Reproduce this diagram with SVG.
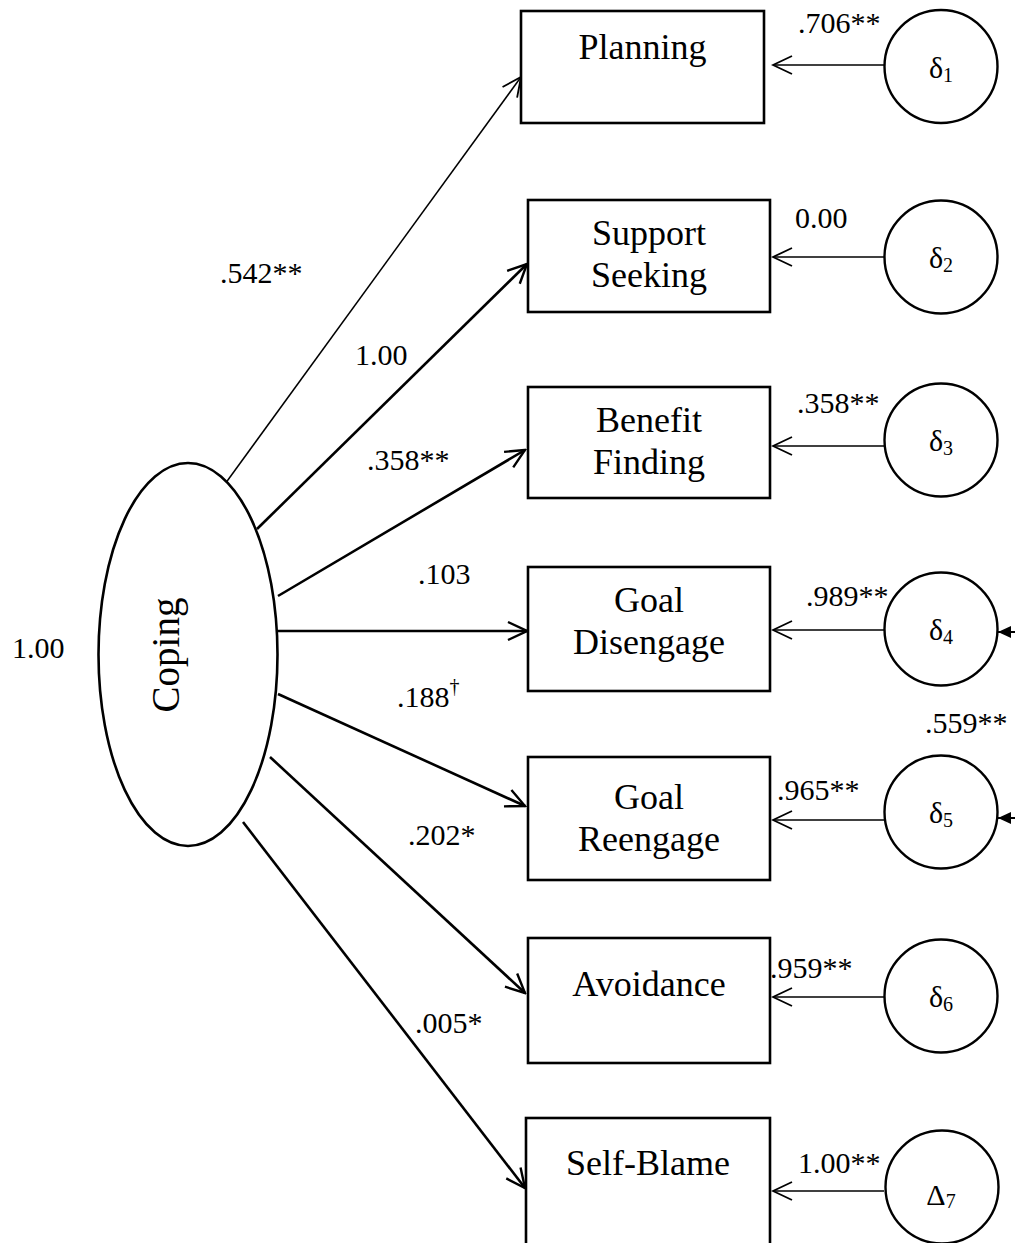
<svg xmlns="http://www.w3.org/2000/svg" width="1015" height="1243" viewBox="0 0 1015 1243">
  <style>
    text { font-family: "Liberation Serif", "Times New Roman", serif; fill: #000; }
    .box { fill: #fff; stroke: #000; stroke-width: 2.6; }
    .err { fill: #fff; stroke: #000; stroke-width: 2.4; }
    .lat { fill: #fff; stroke: #000; stroke-width: 2.6; }
    .name { font-size: 36px; text-anchor: middle; }
    .coef { font-size: 30px; }
    .sym { font-size: 30px; text-anchor: middle; }
    .sub { font-size: 20px; }
    .load { fill: none; stroke: #000; stroke-width: 2.6; marker-end: url(#open); }
    .thin { fill: none; stroke: #000; stroke-width: 1.5; marker-end: url(#openThin); }
    .cov { fill: none; stroke: #000; stroke-width: 1.8; marker-start: url(#solid); marker-end: url(#solid); }
  </style>
  <defs>
    <marker id="open" viewBox="-22 -11 24 22" markerWidth="24" markerHeight="22" refX="0" refY="0" orient="auto" markerUnits="userSpaceOnUse">
      <path d="M -19 -9 L 0 0 L -19 9" fill="none" stroke="#000" stroke-width="2.4"/>
    </marker>
    <marker id="openThin" viewBox="-22 -11 24 22" markerWidth="24" markerHeight="22" refX="0" refY="0" orient="auto" markerUnits="userSpaceOnUse">
      <path d="M -19 -9 L 0 0 L -19 9" fill="none" stroke="#000" stroke-width="1.8"/>
    </marker>
    <marker id="solid" viewBox="-14 -7 15 14" markerWidth="15" markerHeight="14" refX="0" refY="0" orient="auto-start-reverse" markerUnits="userSpaceOnUse">
      <path d="M -13 -6 L 0 0 L -13 6 Z" fill="#000"/>
    </marker>
  </defs>

  <!-- paths and error arrows -->
  <g id="connectors">
    <line class="load" x1="225" y1="484" x2="521" y2="77" style="stroke-width:1.5;marker-end:url(#openThin)"/>
    <line class="load" x1="257" y1="529" x2="527" y2="264"/>
    <line class="load" x1="278" y1="596" x2="525" y2="450"/>
    <line class="load" x1="278" y1="631" x2="527" y2="631"/>
    <line class="load" x1="278" y1="694" x2="525" y2="806"/>
    <line class="load" x1="270" y1="757" x2="525" y2="993"/>
    <line class="load" x1="243" y1="822" x2="525" y2="1188"/>

    <line class="thin" x1="884" y1="65" x2="773" y2="65"/>
    <line class="thin" x1="884" y1="257" x2="773" y2="257"/>
    <line class="thin" x1="884" y1="446" x2="773" y2="446"/>
    <line class="thin" x1="884" y1="630" x2="773" y2="630"/>
    <line class="thin" x1="884" y1="820" x2="773" y2="820"/>
    <line class="thin" x1="884" y1="997" x2="773" y2="997"/>
    <line class="thin" x1="884" y1="1191" x2="773" y2="1191"/>

    <!-- residual covariance between delta 4 and delta 5 -->
    <path class="cov" d="M 998 632 L 1040 632 C 1075 632 1075 818 1040 818 L 998 818"/>
  </g>

  <!-- latent factor -->
  <g id="coping">
    <ellipse class="lat" cx="188" cy="654.5" rx="89.5" ry="191.5"/>
    <text class="name" transform="translate(179 655) rotate(-90)" x="0" y="0" style="font-size:39px">Coping</text>
  </g>
  <text id="coping-variance" class="coef" x="12" y="658">1.00</text>

  <!-- indicators -->
  <g id="planning">
    <rect class="box" x="521" y="11" width="243" height="112"/>
    <text class="name" x="642.5" y="59">Planning</text>
  </g>
  <g id="support-seeking">
    <rect class="box" x="528" y="200" width="242" height="112"/>
    <text class="name" x="649" y="245">Support</text>
    <text class="name" x="649" y="287">Seeking</text>
  </g>
  <g id="benefit-finding">
    <rect class="box" x="528" y="387" width="242" height="111"/>
    <text class="name" x="649" y="432">Benefit</text>
    <text class="name" x="649" y="474">Finding</text>
  </g>
  <g id="goal-disengage">
    <rect class="box" x="528" y="567" width="242" height="124"/>
    <text class="name" x="649" y="612">Goal</text>
    <text class="name" x="649" y="654">Disengage</text>
  </g>
  <g id="goal-reengage">
    <rect class="box" x="528" y="757" width="242" height="123"/>
    <text class="name" x="649" y="809">Goal</text>
    <text class="name" x="649" y="851">Reengage</text>
  </g>
  <g id="avoidance">
    <rect class="box" x="528" y="938" width="242" height="125"/>
    <text class="name" x="649" y="996">Avoidance</text>
  </g>
  <g id="self-blame">
    <rect class="box" x="526" y="1118" width="244" height="140"/>
    <text class="name" x="648" y="1175">Self-Blame</text>
  </g>

  <!-- error terms -->
  <g id="d1">
    <circle class="err" cx="941" cy="66.5" r="56.5"/>
    <text class="sym" x="941" y="78">δ<tspan class="sub" dy="4">1</tspan></text>
  </g>
  <g id="d2">
    <circle class="err" cx="941" cy="257" r="56.5"/>
    <text class="sym" x="941" y="268">δ<tspan class="sub" dy="4">2</tspan></text>
  </g>
  <g id="d3">
    <circle class="err" cx="941" cy="440" r="56.5"/>
    <text class="sym" x="941" y="451">δ<tspan class="sub" dy="4">3</tspan></text>
  </g>
  <g id="d4">
    <circle class="err" cx="941" cy="629" r="56.5"/>
    <text class="sym" x="941" y="640">δ<tspan class="sub" dy="4">4</tspan></text>
  </g>
  <g id="d5">
    <circle class="err" cx="941" cy="812" r="56.5"/>
    <text class="sym" x="941" y="823">δ<tspan class="sub" dy="4">5</tspan></text>
  </g>
  <g id="d6">
    <circle class="err" cx="941" cy="996" r="56.5"/>
    <text class="sym" x="941" y="1007">δ<tspan class="sub" dy="4">6</tspan></text>
  </g>
  <g id="d7">
    <circle class="err" cx="942" cy="1187" r="56.5"/>
    <text class="sym" x="941" y="1205">Δ<tspan class="sub" dy="3">7</tspan></text>
  </g>

  <!-- loading labels -->
  <g id="loading-labels">
    <text class="coef" x="220" y="283">.542**</text>
    <text class="coef" x="355" y="365">1.00</text>
    <text class="coef" x="367" y="470">.358**</text>
    <text class="coef" x="418" y="584">.103</text>
    <text class="coef" x="397" y="707">.188<tspan class="sub" dy="-14">†</tspan></text>
    <text class="coef" x="408" y="845">.202*</text>
    <text class="coef" x="415" y="1033">.005*</text>
  </g>

  <!-- error path labels -->
  <g id="error-labels">
    <text class="coef" x="798" y="33">.706**</text>
    <text class="coef" x="795" y="228">0.00</text>
    <text class="coef" x="797" y="413">.358**</text>
    <text class="coef" x="806" y="606">.989**</text>
    <text class="coef" x="925" y="733">.559**</text>
    <text class="coef" x="777" y="800">.965**</text>
    <text class="coef" x="770" y="978">.959**</text>
    <text class="coef" x="798" y="1173">1.00**</text>
  </g>
</svg>
